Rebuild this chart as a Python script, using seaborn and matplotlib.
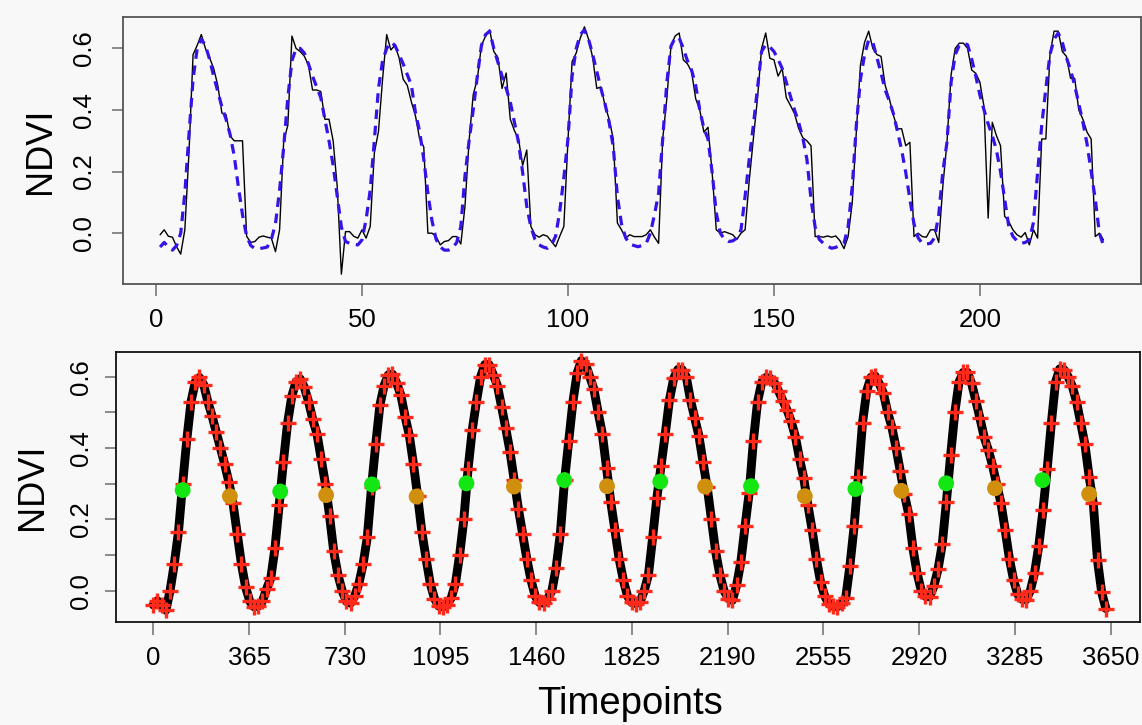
import matplotlib
matplotlib.use("Agg")
import matplotlib.pyplot as plt
import numpy as np
import pandas as pd
import seaborn as sns

# ---------------- data ----------------
# Top panel: raw 16-day NDVI (black) and fitted NDVI (blue dashed), index 1..230
raw_ndvi = [
    -0.005, 0.011, -0.01, -0.013, -0.044, -0.068, 0.011, 0.26, 0.58, 0.61,
    0.645, 0.6, 0.57, 0.535, 0.48, 0.39, 0.385, 0.315, 0.30, 0.30,
    0.30, -0.01, -0.03, -0.027, -0.013, -0.009, -0.013, -0.016, -0.06, 0.011,
    0.30, 0.35, 0.64, 0.6, 0.59, 0.575, 0.546, 0.465, 0.465, 0.46,
    0.37, 0.37, 0.3, 0.15, -0.133, 0.005, 0.005, -0.01, -0.016, 0.011,
    -0.016, 0.022, 0.26, 0.33, 0.5, 0.645, 0.595, 0.61, 0.57, 0.5,
    0.48, 0.426, 0.38, 0.306, 0.28, 0.0, 0.0, -0.011, -0.038, -0.027,
    -0.024, -0.011, -0.011, -0.035, 0.087, 0.30, 0.45, 0.5, 0.61, 0.64,
    0.66, 0.59, 0.57, 0.47, 0.52, 0.37, 0.333, 0.306, 0.22, 0.27,
    0.022, -0.005, -0.013, -0.005, -0.01, -0.027, -0.044, -0.01, 0.022, 0.3,
    0.557, 0.585, 0.634, 0.67, 0.63, 0.57, 0.47, 0.475, 0.415, 0.37,
    0.306, 0.033, 0.011, -0.016, -0.005, -0.011, -0.011, -0.011, -0.005, 0.011,
    -0.013, -0.033, 0.306, 0.437, 0.607, 0.64, 0.65, 0.563, 0.55, 0.525,
    0.437, 0.4, 0.328, 0.344, 0.197, 0.011, 0.0, 0.005, 0.0, -0.005,
    -0.02, 0.0, 0.011, 0.17, 0.306, 0.437, 0.6, 0.65, 0.568, 0.563,
    0.51, 0.535, 0.44, 0.415, 0.388, 0.34, 0.31, 0.30, 0.284, -0.011,
    -0.011, -0.013, -0.009, -0.013, -0.009, -0.024, -0.05, -0.011, 0.098, 0.33,
    0.546, 0.62, 0.656, 0.6, 0.58, 0.574, 0.48, 0.437, 0.383, 0.339,
    0.339, 0.284, 0.295, -0.011, 0.0, -0.011, -0.013, 0.011, 0.011, -0.03,
    0.153, 0.295, 0.514, 0.6, 0.617, 0.617, 0.6, 0.53, 0.519, 0.49,
    0.41, 0.049, 0.36, 0.317, 0.284, 0.055, 0.038, 0.011, -0.005, -0.013,
    0.002, -0.038, 0.011, -0.016, 0.306, 0.306, 0.58, 0.656, 0.656, 0.59,
    0.574, 0.503, 0.503, 0.4, 0.37, 0.328, 0.306, -0.011, 0.0, -0.022,
]
fit_ndvi = [
    -0.045, -0.03, -0.045, -0.055, -0.04, 0.0, 0.13, 0.32, 0.5, 0.6,
    0.63, 0.61, 0.565, 0.51, 0.46, 0.41, 0.37, 0.32, 0.25, 0.15,
    0.06, -0.01, -0.04, -0.05, -0.05, -0.048, -0.045, -0.02, 0.03, 0.14,
    0.28, 0.44, 0.56, 0.6, 0.6, 0.585, 0.55, 0.51, 0.475, 0.44,
    0.37, 0.3, 0.22, 0.12, 0.02, -0.027, -0.033, -0.036, -0.038, -0.022,
    0.044, 0.14, 0.3, 0.47, 0.56, 0.6, 0.62, 0.61, 0.58, 0.55,
    0.515, 0.48, 0.39, 0.33, 0.24, 0.13, 0.04, -0.02, -0.045, -0.055,
    -0.055, -0.048, -0.03, 0.022, 0.186, 0.3, 0.4, 0.51, 0.61, 0.645,
    0.656, 0.6, 0.555, 0.51, 0.47, 0.426, 0.36, 0.295, 0.197, 0.087,
    0.02, -0.02, -0.038, -0.045, -0.049, -0.038, -0.01, 0.07, 0.18, 0.306,
    0.51, 0.6, 0.645, 0.66, 0.63, 0.58, 0.525, 0.47, 0.42, 0.36,
    0.28, 0.12, 0.03, -0.015, -0.035, -0.04, -0.044, -0.04, -0.033, 0.0,
    0.06, 0.13, 0.306, 0.49, 0.607, 0.634, 0.634, 0.6, 0.56, 0.53,
    0.48, 0.4, 0.34, 0.306, 0.197, 0.066, 0.0, -0.02, -0.027, -0.025,
    -0.016, 0.011, 0.12, 0.24, 0.35, 0.47, 0.59, 0.612, 0.605, 0.59,
    0.565, 0.535, 0.49, 0.445, 0.4, 0.36, 0.31, 0.24, 0.11, 0.02,
    -0.02, -0.033, -0.042, -0.049, -0.046, -0.04, -0.033, 0.02, 0.15, 0.35,
    0.5, 0.58, 0.628, 0.62, 0.57, 0.52, 0.465, 0.43, 0.388, 0.33,
    0.27, 0.197, 0.11, 0.03, -0.015, -0.033, -0.035, -0.033, -0.015, 0.06,
    0.2, 0.295, 0.49, 0.58, 0.61, 0.617, 0.612, 0.565, 0.51, 0.448,
    0.4, 0.355, 0.317, 0.27, 0.2, 0.11, 0.022, -0.01, -0.025, -0.033,
    -0.03, -0.022, 0.035, 0.197, 0.35, 0.47, 0.58, 0.63, 0.65, 0.62,
    0.57, 0.53, 0.48, 0.42, 0.36, 0.29, 0.2, 0.11, 0.0, -0.04,
]
obs_index = list(range(1, len(raw_ndvi) + 1))

# Bottom panel: smoothed NDVI sampled every 16 days (red crosses on black curve)
smooth_ndvi = [
    -0.04, -0.028, -0.04, -0.055, 0.0, 0.075, 0.165, 0.30, 0.425, 0.53,
    0.585, 0.598, 0.578, 0.53, 0.49, 0.445, 0.40, 0.355, 0.305, 0.245,
    0.16, 0.075, 0.01, -0.03, -0.045, -0.043, -0.03, 0.005, 0.035, 0.12,
    0.24, 0.36, 0.47, 0.545, 0.585, 0.594, 0.57, 0.53, 0.48, 0.44,
    0.37, 0.30, 0.21, 0.11, 0.045, 0.0, -0.03, -0.035, -0.015, 0.02,
    0.075, 0.15, 0.29, 0.41, 0.52, 0.575, 0.605, 0.607, 0.582, 0.548,
    0.488, 0.436, 0.355, 0.265, 0.165, 0.09, 0.02, -0.022, -0.043, -0.046,
    -0.04, -0.02, 0.02, 0.10, 0.20, 0.34, 0.45, 0.53, 0.60, 0.634,
    0.634, 0.606, 0.575, 0.515, 0.455, 0.39, 0.31, 0.23, 0.16, 0.09,
    0.03, -0.015, -0.033, -0.035, -0.022, 0.0, 0.065, 0.16, 0.31, 0.42,
    0.53, 0.61, 0.645, 0.635, 0.60, 0.565, 0.50, 0.44, 0.345, 0.25,
    0.17, 0.09, 0.03, -0.015, -0.033, -0.036, -0.031, 0.0, 0.045, 0.15,
    0.26, 0.35, 0.44, 0.535, 0.595, 0.62, 0.62, 0.60, 0.535, 0.485,
    0.435, 0.36, 0.29, 0.20, 0.11, 0.045, 0.0, -0.022, -0.027, 0.015,
    0.08, 0.18, 0.275, 0.42, 0.53, 0.585, 0.598, 0.595, 0.583, 0.56,
    0.533, 0.507, 0.475, 0.432, 0.37, 0.315, 0.24, 0.17, 0.09, 0.025,
    -0.015, -0.037, -0.043, -0.045, -0.035, -0.02, 0.07, 0.18, 0.32, 0.47,
    0.56, 0.598, 0.602, 0.58, 0.553, 0.50, 0.458, 0.40, 0.335, 0.27,
    0.215, 0.12, 0.05, 0.0, -0.016, -0.017, 0.012, 0.06, 0.13, 0.25,
    0.38, 0.50, 0.585, 0.612, 0.612, 0.581, 0.533, 0.483, 0.43, 0.394,
    0.35, 0.298, 0.245, 0.17, 0.09, 0.03, -0.01, -0.024, -0.025, 0.0,
    0.05, 0.125, 0.225, 0.34, 0.47, 0.585, 0.622, 0.62, 0.60, 0.573,
    0.53, 0.47, 0.41, 0.32, 0.245, 0.085, -0.005, -0.05,
]
smooth_days = [16 * k for k in range(len(smooth_ndvi))]

# Start (green) and end (orange) of season points
sos_days = [112, 484, 834, 1194, 1567, 1933, 2279, 2677, 3023, 3390]
sos_ndvi = [0.282, 0.278, 0.298, 0.301, 0.31, 0.306, 0.293, 0.285, 0.301, 0.31]
eos_days = [292, 659, 1004, 1375, 1730, 2104, 2484, 2852, 3209, 3568]
eos_ndvi = [0.265, 0.268, 0.264, 0.292, 0.293, 0.292, 0.265, 0.28, 0.287, 0.271]

top_xticks = [0, 50, 100, 150, 200]
bot_xticks = [0, 365, 730, 1095, 1460, 1825, 2190, 2555, 2920, 3285, 3650]
top_yticks = [0.0, 0.2, 0.4, 0.6]
bot_yticks = [0.0, 0.1, 0.2, 0.3, 0.4, 0.5, 0.6]
bot_ylabels = ["0.0", "", "0.2", "", "0.4", "", "0.6"]

# ---------------- style ----------------
sns.set_theme(style="white")
plt.rcParams["font.family"] = ["Liberation Sans", "DejaVu Sans"]
plt.rcParams["text.color"] = "black"
BG = "#F8F8F8"

W, H = 1142, 725
fig = plt.figure(figsize=(W / 100, H / 100), dpi=100, facecolor=BG)

def frac_axes(l, t, r, b):
    return fig.add_axes([l / W, 1 - b / H, (r - l) / W, (b - t) / H])

ax1 = frac_axes(122.5, 17, 1141, 284)
ax2 = frac_axes(115.7, 351.7, 1140, 622.3)

top_df = pd.DataFrame({"idx": obs_index, "raw": raw_ndvi, "fit": fit_ndvi})
sns.lineplot(data=top_df, x="idx", y="raw", ax=ax1, color="black", lw=1.0,
             estimator=None, sort=False)
sns.lineplot(data=top_df, x="idx", y="fit", ax=ax1, color="#3414E6", lw=2.3,
             estimator=None, sort=False)
ax1.lines[-1].set_dashes([3.0, 2.1])

bot_df = pd.DataFrame({"day": smooth_days, "ndvi": smooth_ndvi})
sns.lineplot(data=bot_df, x="day", y="ndvi", ax=ax2, color="black", lw=6.4,
             estimator=None, sort=False, solid_capstyle="round")
sns.scatterplot(data=bot_df, x="day", y="ndvi", ax=ax2, marker="+", s=120,
                color="#FF2A1A", linewidth=2.4, zorder=4)
sns.scatterplot(x=sos_days, y=sos_ndvi, ax=ax2, color="#14E614", s=130,
                edgecolor="none", zorder=5)
sns.scatterplot(x=eos_days, y=eos_ndvi, ax=ax2, color="#D0900E", s=130,
                edgecolor="none", zorder=5)

ax1.set_xlim(-8.13, 239.1)
ax1.set_ylim(-0.165, 0.702)
ax2.set_xlim(-143.3, 3762)
ax2.set_ylim(-0.0886, 0.67)

for ax, fc in ((ax1, "#555555"), (ax2, "#111111")):
    ax.set_facecolor(BG)
    for s in ax.spines.values():
        s.set_color(fc)
        s.set_linewidth(1.3)
    ax.set_xlabel("")
    ax.set_ylabel("")
    ax.grid(False)

ax1.set_xticks(top_xticks)
ax1.set_xticklabels([str(v) for v in top_xticks])
ax1.set_yticks(top_yticks)
ax1.set_yticklabels(["0.0", "0.2", "0.4", "0.6"], rotation=90, va="center")
ax2.set_xticks(bot_xticks)
ax2.set_xticklabels([str(v) for v in bot_xticks])
ax2.set_yticks(bot_yticks)
ax2.set_yticklabels(bot_ylabels, rotation=90, va="center")

ax1.tick_params(axis="x", direction="out", length=8.5, width=1.2, color="#777777",
                labelsize=18.5, pad=9, labelcolor="black", bottom=True)
ax1.tick_params(axis="y", direction="out", length=8, width=1.2, color="#777777",
                labelsize=18.5, pad=11, labelcolor="black", left=True)
ax2.tick_params(axis="x", direction="out", length=9, width=1.2, color="#777777",
                labelsize=18.5, pad=8, labelcolor="black", bottom=True)
ax2.tick_params(axis="y", direction="out", length=8, width=1.2, color="#777777",
                labelsize=18.5, pad=8, labelcolor="black", left=True)

fig.text(40.5 / W, 1 - 150.5 / H, "NDVI", rotation=90, ha="center", va="center",
         fontsize=26, color="black")
fig.text(32.5 / W, 1 - 487 / H, "NDVI", rotation=90, ha="center", va="center",
         fontsize=26, color="black")
fig.text(630 / W, 1 - 714 / H, "Timepoints", ha="center", va="baseline",
         fontsize=27.5, color="black")

fig.savefig("out.png", dpi=100, facecolor=BG)
